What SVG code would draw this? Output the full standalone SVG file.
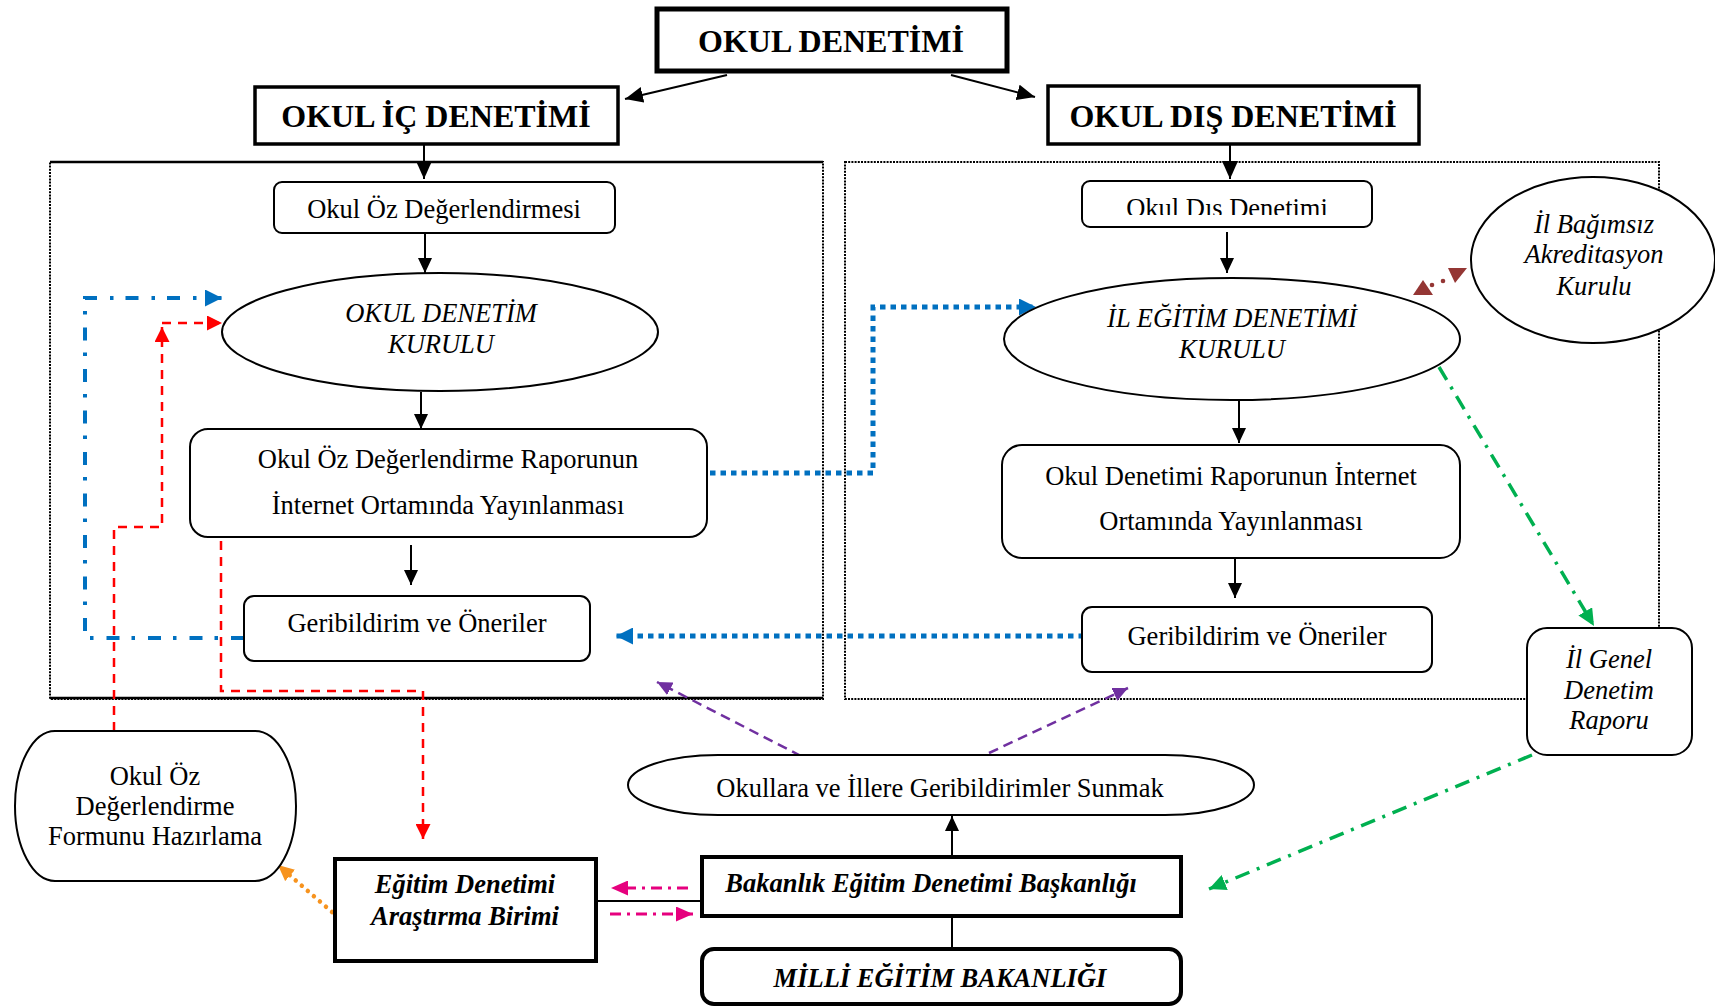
<svg xmlns="http://www.w3.org/2000/svg" width="1715" height="1008" viewBox="0 0 1715 1008">
<style>
.t{font-family:"Liberation Serif","Times New Roman",serif;font-size:26.5px;text-anchor:middle;fill:#000}
.i{font-style:italic}
.b{font-weight:bold}
.big{font-size:32px;font-weight:bold}
.n{fill:#fff;stroke:#000;stroke-width:2}
.k{fill:none;stroke:#000;stroke-width:2}
.cont{fill:none;stroke:#000;stroke-width:2;stroke-dasharray:2 1.2}
.blue1{fill:none;stroke:#0070C0;stroke-width:5;stroke-dasharray:5.5 5}
.blue2{fill:none;stroke:#0070C0;stroke-width:4;stroke-dasharray:13 13 3.5 12}
.red{fill:none;stroke:#FF0000;stroke-width:2.5;stroke-dasharray:9 7}
.pur{fill:none;stroke:#7030A0;stroke-width:2.5;stroke-dasharray:10 6}
.grn{fill:none;stroke:#00B050;stroke-width:3.5;stroke-dasharray:15 8 3 8}
.pink{fill:none;stroke:#E6007E;stroke-width:3;stroke-dasharray:11 6 3 6}
.org{fill:none;stroke:#F7931E;stroke-width:4.5;stroke-linecap:round;stroke-dasharray:0.01 8}
</style>
<defs>
<marker id="aBk" markerUnits="userSpaceOnUse" markerWidth="18" markerHeight="16" refX="18" refY="8" orient="auto"><path d="M0,0 L18,8 L0,16 z" fill="#000"/></marker>
<marker id="aBs" markerUnits="userSpaceOnUse" markerWidth="15" markerHeight="14" refX="15" refY="7" orient="auto"><path d="M0,0 L15,7 L0,14 z" fill="#000"/></marker>
<marker id="aBlue" markerUnits="userSpaceOnUse" markerWidth="17" markerHeight="17" refX="17" refY="8.5" orient="auto"><path d="M0,0 L17,8.5 L0,17 z" fill="#0070C0"/></marker>
<marker id="aRed" markerUnits="userSpaceOnUse" markerWidth="15" markerHeight="15" refX="15" refY="7.5" orient="auto"><path d="M0,0 L15,7.5 L0,15 z" fill="#FF0000"/></marker>
<marker id="aPur" markerUnits="userSpaceOnUse" markerWidth="15" markerHeight="14" refX="15" refY="7" orient="auto"><path d="M0,0 L15,7 L0,14 z" fill="#7030A0"/></marker>
<marker id="aGrn" markerUnits="userSpaceOnUse" markerWidth="17" markerHeight="16" refX="17" refY="8" orient="auto"><path d="M0,0 L17,8 L0,16 z" fill="#00B050"/></marker>
<marker id="aPink" markerUnits="userSpaceOnUse" markerWidth="17" markerHeight="15" refX="17" refY="7.5" orient="auto"><path d="M0,0 L17,7.5 L0,15 z" fill="#E6007E"/></marker>
<marker id="aOrg" markerUnits="userSpaceOnUse" markerWidth="16" markerHeight="15" refX="16" refY="7.5" orient="auto"><path d="M0,0 L16,7.5 L0,15 z" fill="#F7931E"/></marker>
<clipPath id="clipDis"><rect x="1082" y="181" width="290" height="34"/></clipPath>
</defs>

<g id="containers">
<rect class="cont" x="50" y="162" width="773" height="537"/>
<line x1="50" y1="162" x2="823" y2="162" stroke="#000" stroke-width="2.5"/>
<line x1="50" y1="698" x2="823" y2="698" stroke="#000" stroke-width="2.5"/>
<rect class="cont" x="845" y="162" width="814" height="537"/>
</g>

<g id="connectors">
<line class="k" x1="727" y1="75" x2="625" y2="99" stroke-width="3" marker-end="url(#aBk)"/>
<line class="k" x1="951" y1="75" x2="1035" y2="97" stroke-width="3" marker-end="url(#aBk)"/>
<line class="k" x1="424" y1="145" x2="424" y2="179" stroke-width="4" marker-end="url(#aBk)"/>
<line class="k" x1="1230" y1="145" x2="1230" y2="179" stroke-width="4" marker-end="url(#aBk)"/>
<line class="k" x1="425" y1="233" x2="425" y2="273" marker-end="url(#aBs)"/>
<line class="k" x1="421" y1="392" x2="421" y2="429" marker-end="url(#aBs)"/>
<line class="k" x1="411" y1="545" x2="411" y2="585" marker-end="url(#aBs)"/>
<line class="k" x1="1227" y1="232" x2="1227" y2="273" marker-end="url(#aBs)"/>
<line class="k" x1="1239" y1="400" x2="1239" y2="443" marker-end="url(#aBs)"/>
<line class="k" x1="1235" y1="558" x2="1235" y2="598" marker-end="url(#aBs)"/>
<line class="k" x1="952" y1="856" x2="952" y2="816" stroke-width="2.5" marker-end="url(#aBs)"/>
<line class="k" x1="952" y1="917" x2="952" y2="949" stroke-width="3.5"/>
<line class="k" x1="597" y1="901" x2="702" y2="901" stroke-width="3.5"/>
<path class="pink" d="M688,888 H611" marker-end="url(#aPink)"/>
<path class="pink" d="M610,914 H693" marker-end="url(#aPink)"/>
<path class="blue1" d="M710,473 H873 V307 H1036" marker-end="url(#aBlue)"/>
<path class="blue1" d="M1084,636 H616" marker-end="url(#aBlue)"/>
<path class="blue2" d="M244,638 H85 V298 H222" marker-end="url(#aBlue)"/>
<path class="red" d="M114,731 V527 H162 V327" marker-end="url(#aRed)"/>
<path class="red" d="M162,323 H222" marker-end="url(#aRed)"/>
<path class="red" d="M221,541 V691 H423 V839" marker-end="url(#aRed)"/>
<path class="pur" d="M801,756 L657,682" marker-end="url(#aPur)"/>
<path class="pur" d="M989,753 L1128,688" marker-end="url(#aPur)"/>
<path class="grn" d="M1439,367 L1594,626" marker-end="url(#aGrn)"/>
<path class="grn" d="M1532,755 L1209,889" marker-end="url(#aGrn)"/>
<path class="org" d="M332,912 L278,865" marker-end="url(#aOrg)"/>
<g fill="#943634">
<polygon points="1423,280 1413,295 1433,295"/>
<circle cx="1432" cy="285" r="2.3"/>
<circle cx="1443" cy="281" r="2.3"/>
<polygon points="1448,268 1467,268 1455,283"/>
</g>
</g>

<g id="okul-denetimi">
<rect x="657" y="9" width="350" height="62" fill="#fff" stroke="#000" stroke-width="5"/>
<text class="t big" x="831" y="52">OKUL DENETİMİ</text>
</g>
<g id="okul-ic-denetimi">
<rect x="255" y="87" width="363" height="57" fill="#fff" stroke="#000" stroke-width="3.5"/>
<text class="t big" x="436" y="127">OKUL İÇ DENETİMİ</text>
</g>
<g id="okul-dis-denetimi">
<rect x="1048" y="86" width="371" height="58" fill="#fff" stroke="#000" stroke-width="3.5"/>
<text class="t big" x="1233" y="127">OKUL DIŞ DENETİMİ</text>
</g>

<g id="okul-oz-degerlendirmesi">
<rect class="n" x="274" y="182" width="341" height="51" rx="8"/>
<text class="t" x="444" y="218">Okul Öz Değerlendirmesi</text>
</g>
<g id="okul-denetim-kurulu">
<ellipse class="n" cx="440" cy="332" rx="218" ry="59"/>
<text class="t i" x="441" y="322">OKUL DENETİM</text>
<text class="t i" x="441" y="353">KURULU</text>
</g>
<g id="oz-rapor-yayin">
<rect class="n" x="190" y="429" width="517" height="108" rx="18"/>
<text class="t" x="448" y="468">Okul Öz Değerlendirme Raporunun</text>
<text class="t" x="448" y="514">İnternet Ortamında Yayınlanması</text>
</g>
<g id="geribildirim-sol">
<rect class="n" x="244" y="596" width="346" height="65" rx="10"/>
<text class="t" x="417" y="632">Geribildirim ve Öneriler</text>
</g>

<g id="okul-dis-denetimi-kutu">
<rect class="n" x="1082" y="181" width="290" height="46" rx="8"/>
<text class="t" x="1227" y="217" clip-path="url(#clipDis)">Okul Dıs Denetimi</text>
</g>
<g id="il-egitim-denetimi-kurulu">
<ellipse class="n" cx="1232" cy="339" rx="228" ry="61"/>
<text class="t i" x="1232" y="327">İL EĞİTİM DENETİMİ</text>
<text class="t i" x="1232" y="358">KURULU</text>
</g>
<g id="denetim-rapor-yayin">
<rect class="n" x="1002" y="445" width="458" height="113" rx="20"/>
<text class="t" x="1231" y="485">Okul Denetimi Raporunun İnternet</text>
<text class="t" x="1231" y="530">Ortamında Yayınlanması</text>
</g>
<g id="geribildirim-sag">
<rect class="n" x="1082" y="607" width="350" height="65" rx="10"/>
<text class="t" x="1257" y="645">Geribildirim ve Öneriler</text>
</g>
<g id="il-bagimsiz-akreditasyon">
<ellipse class="n" cx="1593" cy="260" rx="122" ry="83"/>
<text class="t i" x="1594" y="233">İl Bağımsız</text>
<text class="t i" x="1594" y="263">Akreditasyon</text>
<text class="t i" x="1594" y="295">Kurulu</text>
</g>
<g id="il-genel-denetim-raporu">
<rect class="n" x="1527" y="628" width="165" height="127" rx="20"/>
<text class="t i" x="1609" y="668">İl Genel</text>
<text class="t i" x="1609" y="699">Denetim</text>
<text class="t i" x="1609" y="729">Raporu</text>
</g>

<g id="form-hazirlama">
<path class="n" d="M55,731 H255 A41 75 0 0 1 255,881 H55 A40 75 0 0 1 55,731 Z"/>
<text class="t" x="155" y="785">Okul Öz</text>
<text class="t" x="155" y="815">Değerlendirme</text>
<text class="t" x="155" y="845">Formunu Hazırlama</text>
</g>
<g id="okullara-geribildirim">
<path class="n" d="M718,755 H1165 A89 30 0 0 1 1165,815 H718 A90 30 0 0 1 718,755 Z"/>
<text class="t" x="940" y="797">Okullara ve İllere Geribildirimler Sunmak</text>
</g>
<g id="egitim-denetimi-arastirma">
<rect x="335" y="859" width="261" height="102" fill="#fff" stroke="#000" stroke-width="4"/>
<text class="t i b" x="465" y="893">Eğitim Denetimi</text>
<text class="t i b" x="465" y="925">Araştırma Birimi</text>
</g>
<g id="bakanlik-egitim-denetimi">
<rect x="702" y="857" width="479" height="59" fill="#fff" stroke="#000" stroke-width="4"/>
<text class="t i b" x="931" y="892">Bakanlık Eğitim Denetimi Başkanlığı</text>
</g>
<g id="milli-egitim-bakanligi">
<rect x="702" y="949" width="479" height="55" rx="12" fill="#fff" stroke="#000" stroke-width="4"/>
<text class="t i b" x="940" y="987">MİLLİ EĞİTİM BAKANLIĞI</text>
</g>
</svg>
